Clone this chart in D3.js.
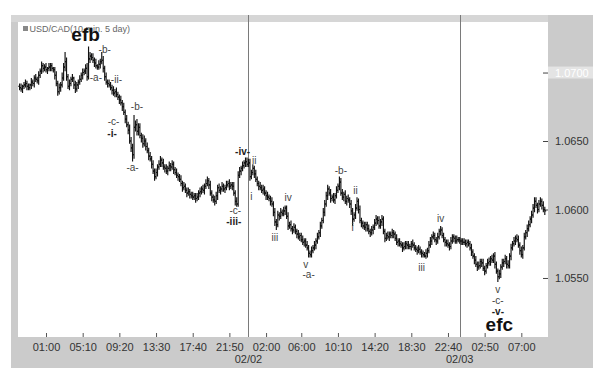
<!DOCTYPE html>
<html><head><meta charset="utf-8">
<script src="https://cdn.jsdelivr.net/npm/d3@7"></script>
<style>body{margin:0;background:#fff}svg{display:block;font-family:"Liberation Sans",Arial,Helvetica,sans-serif}</style>
</head><body><svg id="c" width="607" height="377"></svg>
<script>
// ---------------- DATA ----------------
const title = "USD/CAD(10 min. 5 day)";
const startTime = "2010-01-31 22:00";   // first 10-minute bar
const stepMinutes = 10;
const firstOpen = 1.0690;

const closes = [
1.0689,1.0688,1.0690,1.0691,1.0692,1.0690,1.0689,1.0691,1.0693,1.0692,
1.0696,1.0695,1.0694,1.0698,1.0701,1.0705,1.0703,1.0704,1.0702,1.0703,
1.0704,1.0705,1.0703,1.0702,1.0698,1.0692,1.0686,1.0689,1.0691,1.0696,
1.0704,1.0708,1.0697,1.0690,1.0692,1.0695,1.0696,1.0691,1.0688,1.0691,
1.0693,1.0695,1.0698,1.0700,1.0701,1.0703,1.0697,1.0710,1.0712,1.0711,
1.0709,1.0707,1.0705,1.0704,1.0706,1.0708,1.0709,1.0703,1.0697,1.0693,
1.0692,1.0691,1.0689,1.0687,1.0685,1.0686,1.0684,1.0682,1.0680,1.0678,
1.0675,1.0671,1.0666,1.0662,1.0658,1.0650,1.0645,1.0640,1.0660,1.0662,
1.0657,1.0660,1.0654,1.0652,1.0648,1.0650,1.0646,1.0643,1.0639,1.0637,
1.0633,1.0628,1.0624,1.0627,1.0631,1.0633,1.0636,1.0634,1.0631,1.0630,
1.0628,1.0630,1.0632,1.0631,1.0633,1.0629,1.0627,1.0625,1.0624,1.0622,
1.0619,1.0616,1.0617,1.0614,1.0612,1.0613,1.0611,1.0610,1.0609,1.0610,
1.0608,1.0609,1.0612,1.0613,1.0615,1.0614,1.0617,1.0619,1.0621,1.0618,
1.0612,1.0609,1.0607,1.0606,1.0610,1.0616,1.0614,1.0615,1.0617,1.0615,
1.0616,1.0618,1.0619,1.0617,1.0618,1.0617,1.0612,1.0606,1.0604,1.0625,
1.0628,1.0630,1.0632,1.0634,1.0635,1.0633,1.0634,1.0624,1.0627,1.0630,
1.0626,1.0622,1.0619,1.0617,1.0616,1.0614,1.0615,1.0612,1.0610,1.0609,
1.0608,1.0606,1.0604,1.0598,1.0591,1.0589,1.0596,1.0595,1.0598,1.0597,
1.0599,1.0601,1.0595,1.0588,1.0589,1.0586,1.0585,1.0587,1.0584,1.0582,
1.0580,1.0581,1.0578,1.0576,1.0577,1.0574,1.0572,1.0568,1.0567,1.0570,
1.0572,1.0574,1.0577,1.0580,1.0583,1.0588,1.0592,1.0598,1.0604,1.0610,
1.0615,1.0612,1.0608,1.0609,1.0607,1.0610,1.0614,1.0617,1.0620,1.0612,
1.0609,1.0611,1.0606,1.0608,1.0607,1.0604,1.0599,1.0593,1.0596,1.0601,
1.0606,1.0600,1.0592,1.0590,1.0588,1.0587,1.0589,1.0586,1.0584,1.0583,
1.0585,1.0587,1.0590,1.0593,1.0592,1.0588,1.0591,1.0593,1.0584,1.0579,
1.0581,1.0580,1.0582,1.0581,1.0583,1.0582,1.0579,1.0576,1.0577,1.0575,
1.0574,1.0572,1.0573,1.0575,1.0574,1.0573,1.0573,1.0575,1.0574,1.0572,
1.0571,1.0570,1.0571,1.0569,1.0568,1.0567,1.0566,1.0568,1.0570,1.0574,
1.0577,1.0580,1.0581,1.0578,1.0577,1.0580,1.0584,1.0585,1.0581,1.0578,
1.0576,1.0575,1.0574,1.0573,1.0577,1.0580,1.0579,1.0577,1.0578,1.0578,
1.0577,1.0577,1.0576,1.0576,1.0575,1.0576,1.0575,1.0572,1.0569,1.0566,
1.0563,1.0560,1.0558,1.0559,1.0562,1.0561,1.0557,1.0555,1.0559,1.0561,
1.0562,1.0564,1.0563,1.0566,1.0560,1.0555,1.0551,1.0553,1.0558,1.0561,
1.0562,1.0564,1.0560,1.0559,1.0566,1.0572,1.0575,1.0577,1.0579,1.0578,
1.0574,1.0570,1.0567,1.0572,1.0580,1.0583,1.0586,1.0589,1.0593,1.0596,
1.0601,1.0606,1.0603,1.0600,1.0604,1.0606,1.0603,1.0600,1.0599
];
// wick sizes in pips: above max(open,close) and below min(open,close)
const wickUp = [
2,3,1,2,3,2,2,1,3,2, 2,3,2,3,2,3,2,2,3,1, 3,2,2,1,2,3,2,3,2,4, 3,7,3,2,3,2,3,1,3,2,
2,3,2,3,2,3,4,9,3,2, 3,2,3,1,3,2,6,3,2,3, 2,3,2,2,3,2,3,2,2,3, 2,3,2,3,2,4,3,3,9,3,
4,3,3,2,3,4,2,3,2,3, 2,3,2,3,2,3,3,2,3,2, 3,2,3,2,3,2,2,3,2,2, 3,2,3,2,2,3,2,2,3,2,
2,3,2,3,2,3,2,3,3,2, 3,2,2,3,3,2,3,2,3,2, 2,3,2,3,2,2,3,2,3,3, 3,2,3,2,3,3,3,3,2,3,
2,3,2,2,3,2,3,2,2,3, 2,2,3,2,3,2,3,2,3,2, 3,2,2,3,2,3,2,3,2,2, 3,2,2,3,2,2,3,2,2,3,
2,3,2,3,2,3,2,3,3,3, 3,2,3,2,3,2,3,2,4,3, 3,2,3,2,3,2,3,2,2,3, 3,2,3,2,2,3,2,2,3,2,
3,2,3,3,2,3,2,3,2,2, 2,3,2,2,3,2,2,3,2,2, 2,2,3,2,2,3,2,2,3,2, 2,2,3,2,2,2,2,3,2,3,
3,2,3,2,2,3,2,3,2,2, 2,2,3,2,3,2,2,2,3,2, 2,2,2,3,2,2,2,2,3,2, 2,3,2,3,2,2,3,2,2,3,
3,2,3,2,3,2,2,3,2,3, 2,3,2,3,2,3,2,3,2,3, 3,2,3,2,3,2,3,3,2,3, 3,3,3,2,3,3,2,3,2
];
const wickDown = [
2,2,3,2,2,3,2,2,3,2, 3,2,2,3,2,2,3,2,2,3, 2,3,2,2,3,2,3,2,3,2, 2,3,3,2,3,2,2,3,3,2,
3,2,2,3,2,2,3,2,3,2, 2,3,2,2,2,3,2,3,3,2, 3,2,2,3,2,3,2,2,3,2, 3,2,3,2,3,2,3,5,3,3,
3,3,2,3,3,2,3,2,3,2, 3,2,3,2,3,2,2,3,2,3, 2,3,2,3,2,3,2,2,3,2, 2,3,2,2,3,2,3,2,2,2,
3,2,2,3,2,2,3,2,2,3, 2,3,2,3,2,3,2,3,2,2, 3,2,2,3,2,3,2,3,2,2, 2,3,2,2,3,2,2,3,2,2,
3,2,2,3,2,2,3,2,3,2, 2,3,2,3,3,4,2,3,2,2, 2,3,2,3,2,2,3,2,2,3, 2,3,2,2,3,2,2,3,2,2,
2,2,3,2,2,3,2,2,3,2, 3,2,3,2,2,3,2,2,3,2, 2,3,2,3,2,3,3,5,2,3, 2,3,2,3,2,2,3,2,2,3,
2,3,2,2,3,2,2,3,2,3, 2,2,3,2,2,3,2,2,3,2, 2,3,2,2,3,2,2,3,2,2, 2,3,2,2,3,2,1,2,3,2,
2,3,2,2,3,2,2,3,2,2, 3,2,2,3,2,2,3,2,2,2, 2,3,2,2,2,3,2,2,3,2, 3,2,3,2,2,3,2,3,2,2,
2,3,2,2,3,2,4,2,3,2, 3,2,3,2,2,3,2,2,3,2, 2,3,2,3,2,2,3,2,2,3, 2,3,2,3,2,2,3,2,3
];

const yTicks = [1.0550, 1.0600, 1.0650, 1.0700];
const highlightedTick = 1.0700;
const xTickTimes = ["2010-02-01 01:00","2010-02-01 05:10","2010-02-01 09:20","2010-02-01 13:30",
  "2010-02-01 17:40","2010-02-01 21:50","2010-02-02 02:00","2010-02-02 06:00","2010-02-02 10:10",
  "2010-02-02 14:20","2010-02-02 18:30","2010-02-02 22:40","2010-02-03 02:50","2010-02-03 07:00"];
const xTickLabels = ["01:00","05:10","09:20","13:30","17:40","21:50","02:00","06:00","10:10",
  "14:20","18:30","22:40","02:50","07:00"];
const dayBreaks = ["2010-02-02 00:00","2010-02-03 00:00"];
const dayLabels = ["02/02","02/03"];

// wave labels anchored at (bar index, price level)
const waveBars   = [45,58,52,66,80,64,63,77,152,160,158,147,146,183,174,219,229,227,195,197,287,274,326,326,326,327];
const wavePrices = [1.0723,1.0714,1.0694,1.0692,1.0673,1.0662,1.0653,1.0628,1.0640,1.0633,1.0607,1.0597,1.0589,
                    1.0606,1.0577,1.0626,1.0611,1.0584,1.0557,1.0550,1.0591,1.0555,1.0539,1.0531,1.0523,1.0511];
const waveTexts  = ["efb","-b-","-a-","-ii-","-b-","-c-","-i-","-a-","-iv-","ii","i","-c-","-iii-",
                    "iv","iii","-b-","ii","i","v","-a-","iv","iii","v","-c-","-v-","efc"];
const waveKinds  = ["big","n","n","n","n","n","b","n","b","n","n","n","b",
                    "n","n","n","n","n","n","n","n","n","n","n","b","big"];

// ---------------- LAYOUT ----------------
const frame = {x0: 11, y0: 15, x1: 593, y1: 368};
const plot  = {x0: 18, y0: 22, x1: 548, y1: 337};

const parse = d3.utcParse("%Y-%m-%d %H:%M");
const t0 = parse(startTime);
const times = closes.map((_, i) => d3.utcMinute.offset(t0, i * stepMinutes));
const bars = closes.map((c, i) => {
  const o = i === 0 ? firstOpen : closes[i - 1];
  return {t: times[i], o, c,
          h: Math.max(o, c) + wickUp[i] / 10000,
          l: Math.min(o, c) - wickDown[i] / 10000};
});

const x = d3.scaleTime().domain([times[0], times[times.length - 1]]).range([19.6, 544.8]);
const y = d3.scaleLinear().domain([1.05069, 1.07369]).range([plot.y1, plot.y0]);

const svg = d3.select("#c");
svg.append("rect").attr("x", frame.x0).attr("y", frame.y0)
  .attr("width", frame.x1 - frame.x0).attr("height", frame.y1 - frame.y0).attr("fill", "#cbcbcb");
svg.append("rect").attr("x", frame.x0).attr("y", frame.y0)
  .attr("width", plot.x1 - frame.x0).attr("height", plot.y0 - frame.y0).attr("fill", "#d6d6d6");
svg.append("rect").attr("x", plot.x0).attr("y", plot.y0)
  .attr("width", plot.x1 - plot.x0).attr("height", plot.y1 - plot.y0).attr("fill", "#fff");

// highlighted price box
svg.append("rect").attr("x", plot.x1).attr("y", y(highlightedTick) - 6)
  .attr("width", frame.x1 - plot.x1).attr("height", 12).attr("fill", "#e4e4e4");

// day separators
svg.append("g").selectAll("line").data(dayBreaks).join("line")
  .attr("x1", d => Math.round(x(parse(d))) + 0.5).attr("x2", d => Math.round(x(parse(d))) + 0.5)
  .attr("y1", frame.y0).attr("y2", plot.y1)
  .attr("stroke", "#7a7a7a").attr("stroke-width", 1);

// y axis
const yAxis = d3.axisRight(y).tickValues(yTicks).tickFormat(d3.format(".4f"))
  .tickSizeInner(-5).tickSizeOuter(0).tickPadding(7);
const gy = svg.append("g").attr("transform", `translate(${plot.x1},0)`).call(yAxis);
gy.select(".domain").remove();
gy.selectAll(".tick line").attr("stroke", "#444");
gy.selectAll(".tick text").attr("font-size", 11).attr("fill", d => d === highlightedTick ? "#fff" : "#333")
  .attr("font-family", '"Liberation Sans",Arial,sans-serif');

// x axis
const xAxis = d3.axisBottom(x).tickValues(xTickTimes.map(parse))
  .tickFormat((d, i) => xTickLabels[i]).tickSizeInner(-4).tickSizeOuter(0).tickPadding(6);
const gx = svg.append("g").attr("transform", `translate(0,${plot.y1})`).call(xAxis);
gx.select(".domain").remove();
gx.selectAll(".tick line").attr("stroke", "#555");
gx.selectAll(".tick text").attr("font-size", 11).attr("fill", "#333")
  .attr("font-family", '"Liberation Sans",Arial,sans-serif');

svg.append("g").selectAll("text").data(dayBreaks).join("text")
  .attr("x", d => x(parse(d))).attr("y", 363).attr("text-anchor", "middle")
  .attr("font-size", 11).attr("fill", "#333").text((d, i) => dayLabels[i]);

// OHLC bars
svg.append("g").selectAll("path").data(bars).join("path")
  .attr("d", d => {
    const cx = x(d.t);
    return `M${cx},${y(d.h)}V${y(d.l)}M${cx - 1.4},${y(d.o)}H${cx}M${cx},${y(d.c)}H${cx + 1.4}`;
  })
  .attr("fill", "none").attr("stroke", "#111").attr("stroke-width", 1.15);

// title
svg.append("rect").attr("x", 23).attr("y", 26).attr("width", 5).attr("height", 5).attr("fill", "#888");
svg.append("text").attr("x", 29.5).attr("y", 32).attr("font-size", 9).attr("fill", "#666").text(title);

// wave labels
const waves = waveTexts.map((t, i) => ({t, bar: waveBars[i], p: wavePrices[i], k: waveKinds[i]}));
svg.append("g").selectAll("text").data(waves).join("text")
  .attr("x", d => x(times[d.bar])).attr("y", d => y(d.p)).attr("text-anchor", "middle")
  .attr("font-size", d => d.k === "big" ? 19 : 10)
  .attr("font-weight", d => d.k === "n" ? "normal" : "bold")
  .attr("fill", d => d.k === "big" ? "#111" : d.k === "b" ? "#222" : "#444")
  .text(d => d.t);
</script></body></html>
